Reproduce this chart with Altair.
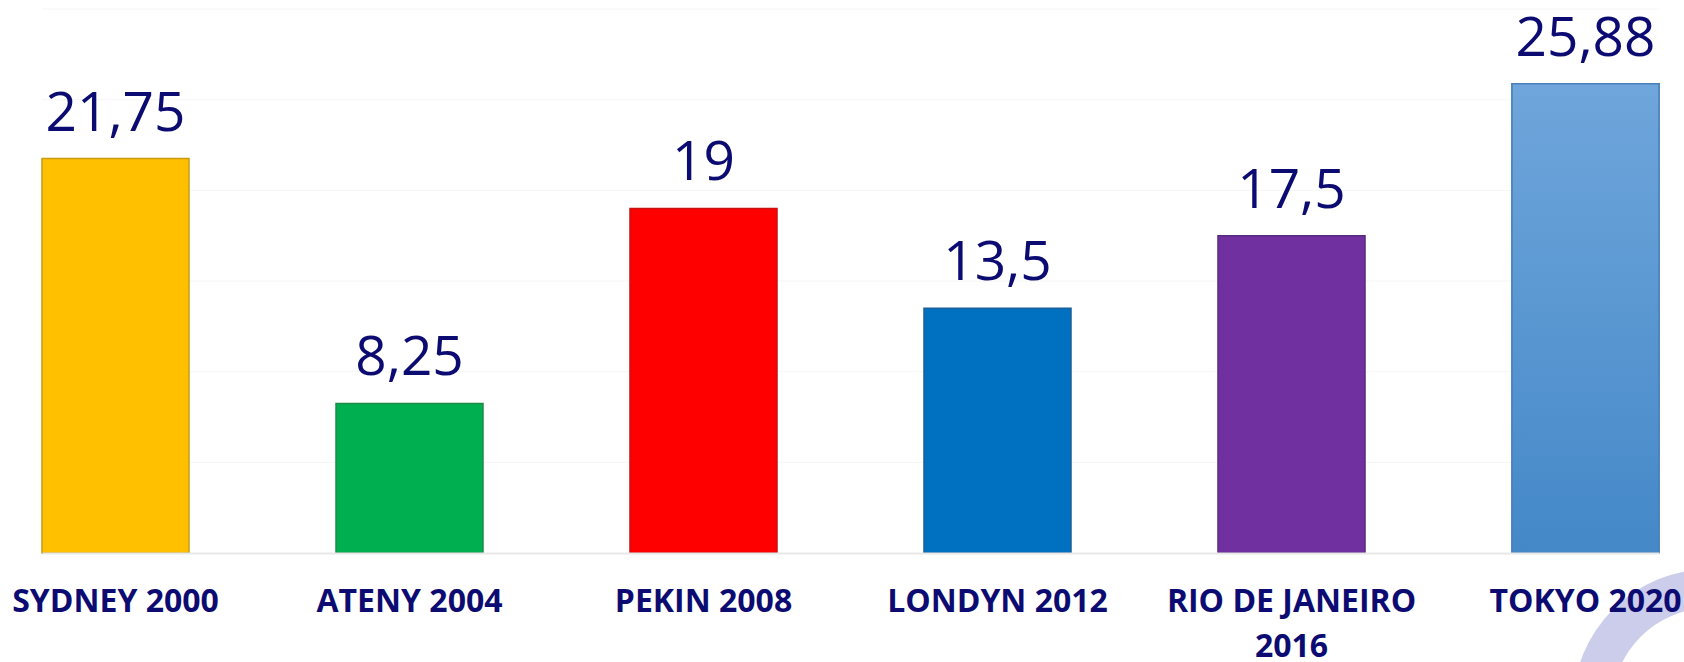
import altair as alt
import pandas as pd

cities = ["SYDNEY 2000", "ATENY 2004", "PEKIN 2008", "LONDYN 2012", "RIO DE JANEIRO 2016", "TOKYO 2020"]
values = [21.75, 8.25, 19, 13.5, 17.5, 25.88]
value_labels = ["21,75", "8,25", "19", "13,5", "17,5", "25,88"]
colors = ["#FFC000", "#00B050", "#FF0000", "#0070C0", "#7030A0", "#5B9BD5"]
strokes = ["#C99A10", "#1E8A48", "#C81010", "#1A5E9A", "#5A2A80", "#4A80B8"]
grid_values = [5, 10, 15, 20, 25, 30]

df = pd.DataFrame({"city": cities, "value": values, "lbl": value_labels})
grid_df = pd.DataFrame({"g": grid_values})

NAVY = "#0B0B72"

x = alt.X("city:N", sort=cities, title=None,
          scale=alt.Scale(paddingInner=0.5, paddingOuter=0),
          axis=alt.Axis(labelAngle=0, labelFont="Open Sans", labelFontWeight="bold",
                        labelFontSize=32, labelColor=NAVY, labelPadding=33,
                        labelLineHeight=45, labelLimit=0, ticks=False, domain=True,
                        domainColor="#E8E8E8", domainWidth=2, grid=False, zindex=1,
                        labelExpr="datum.value == 'RIO DE JANEIRO 2016' ? ['RIO DE JANEIRO', '2016'] : datum.label"))
yscale = alt.Scale(domain=[0, 30], nice=False)
y = alt.Y("value:Q", title=None, scale=yscale, axis=None)

grid = alt.Chart(grid_df).mark_rule(color="#F6F6F6", strokeWidth=1).encode(
    y=alt.Y("g:Q", scale=yscale, axis=None)
)

bars = alt.Chart(df).mark_bar(strokeWidth=1.5).encode(
    x=x, y=y,
    color=alt.Color("city:N", sort=cities, scale=alt.Scale(domain=cities, range=colors), legend=None),
    stroke=alt.Stroke("city:N", sort=cities, scale=alt.Scale(domain=cities, range=strokes), legend=None),
)

tokyo = alt.Chart(df).transform_filter(alt.datum.city == "TOKYO 2020").mark_bar(
    color=alt.Gradient(gradient="linear", x1=0, x2=0, y1=0, y2=1,
                       stops=[alt.GradientStop(color="#6FA6DB", offset=0),
                              alt.GradientStop(color="#4488C8", offset=1)]),
    stroke="#4A80B8", strokeWidth=1.5
).encode(x=x, y=y)

text = alt.Chart(df).mark_text(font="Open Sans", fontSize=55, color=NAVY, baseline="alphabetic", dy=-28).encode(
    x=x, y=y, text="lbl:N"
)

# decorative lavender ring in the bottom-right corner
ring = alt.Chart(pd.DataFrame({"k": [0]})).mark_arc(
    color="#CCCCEB", radius=137, radius2=98, theta=0, theta2=6.2832
).encode(x=alt.value(1668), y=alt.value(697))

chart = alt.layer(grid, ring, bars, tokyo, text).properties(
    width=1617, height=544,
    padding={"left": 42, "top": 9, "right": 25, "bottom": 109},
    autosize=alt.AutoSizeParams(type="none"),
    view=alt.ViewBackground(stroke="transparent", strokeWidth=0, strokeOpacity=0),
).configure_view(stroke="transparent", strokeWidth=0, strokeOpacity=0).configure(background="white")

chart.save("out.html", embed_options={"renderer": "svg", "actions": False})
